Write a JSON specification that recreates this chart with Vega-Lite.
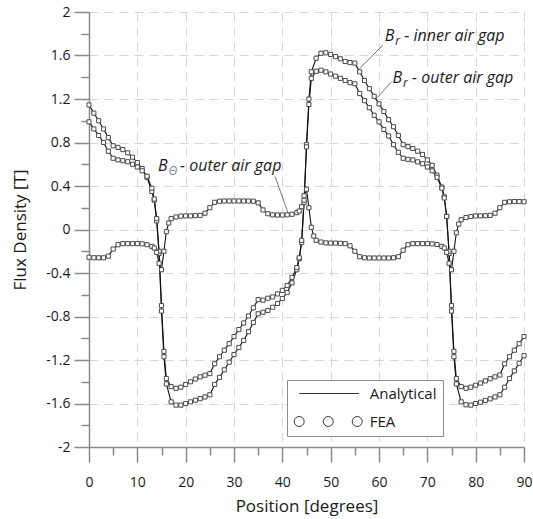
{
  "$schema": "https://vega.github.io/schema/vega-lite/v6.json",
  "width": 435,
  "height": 435,
  "autosize": {"type": "none"},
  "padding": {"left": 89, "top": 12, "right": 9, "bottom": 72},
  "background": "white",
  "config": {"view": {"stroke": null}, "font": "Open Sans"},
  "datasets": {
    "curves": [
      {"series":"inner","pos":0,"flux":1.145},{"series":"inner","pos":1,"flux":1.07},{"series":"inner","pos":2,"flux":1.0},{"series":"inner","pos":3,"flux":0.925},{"series":"inner","pos":4,"flux":0.845},{"series":"inner","pos":5,"flux":0.77},{"series":"inner","pos":6,"flux":0.755},{"series":"inner","pos":7,"flux":0.735},{"series":"inner","pos":8,"flux":0.705},{"series":"inner","pos":9,"flux":0.665},{"series":"inner","pos":10,"flux":0.615},{"series":"inner","pos":11,"flux":0.56},{"series":"inner","pos":12,"flux":0.48},{"series":"inner","pos":13,"flux":0.35},{"series":"inner","pos":13.5,"flux":0.27},{"series":"inner","pos":14,"flux":0.08},{"series":"inner","pos":14.5,"flux":-0.22},{"series":"inner","pos":15,"flux":-0.75},{"series":"inner","pos":15.5,"flux":-1.17},{"series":"inner","pos":16,"flux":-1.42},{"series":"inner","pos":17,"flux":-1.585},{"series":"inner","pos":18,"flux":-1.615},{"series":"inner","pos":19,"flux":-1.615},{"series":"inner","pos":20,"flux":-1.6},{"series":"inner","pos":21,"flux":-1.585},{"series":"inner","pos":22,"flux":-1.57},{"series":"inner","pos":23,"flux":-1.555},{"series":"inner","pos":24,"flux":-1.54},{"series":"inner","pos":25,"flux":-1.52},{"series":"inner","pos":26,"flux":-1.425},{"series":"inner","pos":27,"flux":-1.36},{"series":"inner","pos":28,"flux":-1.29},{"series":"inner","pos":29,"flux":-1.22},{"series":"inner","pos":30,"flux":-1.15},{"series":"inner","pos":31,"flux":-1.085},{"series":"inner","pos":32,"flux":-1.02},{"series":"inner","pos":33,"flux":-0.94},{"series":"inner","pos":34,"flux":-0.855},{"series":"inner","pos":35,"flux":-0.775},{"series":"inner","pos":36,"flux":-0.76},{"series":"inner","pos":37,"flux":-0.745},{"series":"inner","pos":38,"flux":-0.715},{"series":"inner","pos":39,"flux":-0.68},{"series":"inner","pos":40,"flux":-0.635},{"series":"inner","pos":41,"flux":-0.58},{"series":"inner","pos":42,"flux":-0.49},{"series":"inner","pos":43,"flux":-0.37},{"series":"inner","pos":43.5,"flux":-0.27},{"series":"inner","pos":44,"flux":-0.12},{"series":"inner","pos":44.5,"flux":0.25},{"series":"inner","pos":45,"flux":0.78},{"series":"inner","pos":45.5,"flux":1.2},{"series":"inner","pos":46,"flux":1.45},{"series":"inner","pos":47,"flux":1.575},{"series":"inner","pos":48,"flux":1.62},{"series":"inner","pos":49,"flux":1.625},{"series":"inner","pos":50,"flux":1.61},{"series":"inner","pos":51,"flux":1.59},{"series":"inner","pos":52,"flux":1.57},{"series":"inner","pos":53,"flux":1.545},{"series":"inner","pos":54,"flux":1.535},{"series":"inner","pos":55,"flux":1.53},{"series":"inner","pos":56,"flux":1.45},{"series":"inner","pos":57,"flux":1.37},{"series":"inner","pos":58,"flux":1.295},{"series":"inner","pos":59,"flux":1.225},{"series":"inner","pos":60,"flux":1.155},{"series":"inner","pos":61,"flux":1.085},{"series":"inner","pos":62,"flux":1.01},{"series":"inner","pos":63,"flux":0.945},{"series":"inner","pos":64,"flux":0.865},{"series":"inner","pos":65,"flux":0.78},{"series":"inner","pos":66,"flux":0.762},{"series":"inner","pos":67,"flux":0.745},{"series":"inner","pos":68,"flux":0.72},{"series":"inner","pos":69,"flux":0.69},{"series":"inner","pos":70,"flux":0.64},{"series":"inner","pos":71,"flux":0.59},{"series":"inner","pos":72,"flux":0.5},{"series":"inner","pos":73,"flux":0.39},{"series":"inner","pos":73.5,"flux":0.3},{"series":"inner","pos":74,"flux":0.12},{"series":"inner","pos":74.5,"flux":-0.22},{"series":"inner","pos":75,"flux":-0.75},{"series":"inner","pos":75.5,"flux":-1.17},{"series":"inner","pos":76,"flux":-1.42},{"series":"inner","pos":77,"flux":-1.585},{"series":"inner","pos":78,"flux":-1.612},{"series":"inner","pos":79,"flux":-1.615},{"series":"inner","pos":80,"flux":-1.6},{"series":"inner","pos":81,"flux":-1.588},{"series":"inner","pos":82,"flux":-1.572},{"series":"inner","pos":83,"flux":-1.557},{"series":"inner","pos":84,"flux":-1.54},{"series":"inner","pos":85,"flux":-1.52},{"series":"inner","pos":86,"flux":-1.45},{"series":"inner","pos":87,"flux":-1.37},{"series":"inner","pos":88,"flux":-1.3},{"series":"inner","pos":89,"flux":-1.23},{"series":"inner","pos":90,"flux":-1.16},
      {"series":"outer","pos":0,"flux":0.99},{"series":"outer","pos":1,"flux":0.925},{"series":"outer","pos":2,"flux":0.865},{"series":"outer","pos":3,"flux":0.8},{"series":"outer","pos":4,"flux":0.72},{"series":"outer","pos":5,"flux":0.655},{"series":"outer","pos":6,"flux":0.64},{"series":"outer","pos":7,"flux":0.633},{"series":"outer","pos":8,"flux":0.623},{"series":"outer","pos":9,"flux":0.6},{"series":"outer","pos":10,"flux":0.575},{"series":"outer","pos":11,"flux":0.54},{"series":"outer","pos":12,"flux":0.49},{"series":"outer","pos":13,"flux":0.38},{"series":"outer","pos":13.5,"flux":0.28},{"series":"outer","pos":14,"flux":0.1},{"series":"outer","pos":14.5,"flux":-0.2},{"series":"outer","pos":15,"flux":-0.7},{"series":"outer","pos":15.5,"flux":-1.12},{"series":"outer","pos":16,"flux":-1.37},{"series":"outer","pos":17,"flux":-1.445},{"series":"outer","pos":18,"flux":-1.46},{"series":"outer","pos":19,"flux":-1.45},{"series":"outer","pos":20,"flux":-1.425},{"series":"outer","pos":21,"flux":-1.4},{"series":"outer","pos":22,"flux":-1.375},{"series":"outer","pos":23,"flux":-1.355},{"series":"outer","pos":24,"flux":-1.34},{"series":"outer","pos":25,"flux":-1.325},{"series":"outer","pos":26,"flux":-1.235},{"series":"outer","pos":27,"flux":-1.17},{"series":"outer","pos":28,"flux":-1.11},{"series":"outer","pos":29,"flux":-1.05},{"series":"outer","pos":30,"flux":-0.985},{"series":"outer","pos":31,"flux":-0.92},{"series":"outer","pos":32,"flux":-0.86},{"series":"outer","pos":33,"flux":-0.795},{"series":"outer","pos":34,"flux":-0.72},{"series":"outer","pos":35,"flux":-0.645},{"series":"outer","pos":36,"flux":-0.65},{"series":"outer","pos":37,"flux":-0.632},{"series":"outer","pos":38,"flux":-0.62},{"series":"outer","pos":39,"flux":-0.592},{"series":"outer","pos":40,"flux":-0.56},{"series":"outer","pos":41,"flux":-0.515},{"series":"outer","pos":42,"flux":-0.44},{"series":"outer","pos":43,"flux":-0.35},{"series":"outer","pos":43.5,"flux":-0.26},{"series":"outer","pos":44,"flux":-0.1},{"series":"outer","pos":44.5,"flux":0.27},{"series":"outer","pos":45,"flux":0.76},{"series":"outer","pos":45.5,"flux":1.15},{"series":"outer","pos":46,"flux":1.39},{"series":"outer","pos":47,"flux":1.455},{"series":"outer","pos":48,"flux":1.465},{"series":"outer","pos":49,"flux":1.45},{"series":"outer","pos":50,"flux":1.43},{"series":"outer","pos":51,"flux":1.41},{"series":"outer","pos":52,"flux":1.39},{"series":"outer","pos":53,"flux":1.37},{"series":"outer","pos":54,"flux":1.35},{"series":"outer","pos":55,"flux":1.34},{"series":"outer","pos":56,"flux":1.25},{"series":"outer","pos":57,"flux":1.185},{"series":"outer","pos":58,"flux":1.12},{"series":"outer","pos":59,"flux":1.05},{"series":"outer","pos":60,"flux":0.99},{"series":"outer","pos":61,"flux":0.92},{"series":"outer","pos":62,"flux":0.86},{"series":"outer","pos":63,"flux":0.78},{"series":"outer","pos":64,"flux":0.71},{"series":"outer","pos":65,"flux":0.655},{"series":"outer","pos":66,"flux":0.645},{"series":"outer","pos":67,"flux":0.64},{"series":"outer","pos":68,"flux":0.622},{"series":"outer","pos":69,"flux":0.605},{"series":"outer","pos":70,"flux":0.575},{"series":"outer","pos":71,"flux":0.54},{"series":"outer","pos":72,"flux":0.48},{"series":"outer","pos":73,"flux":0.38},{"series":"outer","pos":73.5,"flux":0.29},{"series":"outer","pos":74,"flux":0.12},{"series":"outer","pos":74.5,"flux":-0.2},{"series":"outer","pos":75,"flux":-0.7},{"series":"outer","pos":75.5,"flux":-1.12},{"series":"outer","pos":76,"flux":-1.37},{"series":"outer","pos":77,"flux":-1.445},{"series":"outer","pos":78,"flux":-1.46},{"series":"outer","pos":79,"flux":-1.45},{"series":"outer","pos":80,"flux":-1.432},{"series":"outer","pos":81,"flux":-1.412},{"series":"outer","pos":82,"flux":-1.392},{"series":"outer","pos":83,"flux":-1.372},{"series":"outer","pos":84,"flux":-1.355},{"series":"outer","pos":85,"flux":-1.338},{"series":"outer","pos":86,"flux":-1.235},{"series":"outer","pos":87,"flux":-1.17},{"series":"outer","pos":88,"flux":-1.11},{"series":"outer","pos":89,"flux":-1.05},{"series":"outer","pos":90,"flux":-0.985},
      {"series":"theta","pos":0,"flux":-0.255},{"series":"theta","pos":1,"flux":-0.26},{"series":"theta","pos":2,"flux":-0.26},{"series":"theta","pos":3,"flux":-0.26},{"series":"theta","pos":4,"flux":-0.245},{"series":"theta","pos":5,"flux":-0.18},{"series":"theta","pos":6,"flux":-0.14},{"series":"theta","pos":7,"flux":-0.13},{"series":"theta","pos":8,"flux":-0.13},{"series":"theta","pos":9,"flux":-0.13},{"series":"theta","pos":10,"flux":-0.13},{"series":"theta","pos":11,"flux":-0.132},{"series":"theta","pos":12,"flux":-0.14},{"series":"theta","pos":13,"flux":-0.155},{"series":"theta","pos":13.5,"flux":-0.17},{"series":"theta","pos":14,"flux":-0.21},{"series":"theta","pos":14.5,"flux":-0.31},{"series":"theta","pos":15,"flux":-0.37},{"series":"theta","pos":15.5,"flux":-0.2},{"series":"theta","pos":16,"flux":-0.02},{"series":"theta","pos":16.5,"flux":0.06},{"series":"theta","pos":17,"flux":0.1},{"series":"theta","pos":18,"flux":0.115},{"series":"theta","pos":19,"flux":0.123},{"series":"theta","pos":20,"flux":0.125},{"series":"theta","pos":21,"flux":0.125},{"series":"theta","pos":22,"flux":0.127},{"series":"theta","pos":23,"flux":0.13},{"series":"theta","pos":24,"flux":0.15},{"series":"theta","pos":25,"flux":0.2},{"series":"theta","pos":26,"flux":0.25},{"series":"theta","pos":27,"flux":0.26},{"series":"theta","pos":28,"flux":0.262},{"series":"theta","pos":29,"flux":0.262},{"series":"theta","pos":30,"flux":0.262},{"series":"theta","pos":31,"flux":0.262},{"series":"theta","pos":32,"flux":0.262},{"series":"theta","pos":33,"flux":0.262},{"series":"theta","pos":34,"flux":0.26},{"series":"theta","pos":35,"flux":0.245},{"series":"theta","pos":36,"flux":0.18},{"series":"theta","pos":37,"flux":0.145},{"series":"theta","pos":38,"flux":0.135},{"series":"theta","pos":39,"flux":0.133},{"series":"theta","pos":40,"flux":0.133},{"series":"theta","pos":41,"flux":0.135},{"series":"theta","pos":42,"flux":0.14},{"series":"theta","pos":43,"flux":0.155},{"series":"theta","pos":43.5,"flux":0.17},{"series":"theta","pos":44,"flux":0.21},{"series":"theta","pos":44.5,"flux":0.31},{"series":"theta","pos":45,"flux":0.37},{"series":"theta","pos":45.5,"flux":0.2},{"series":"theta","pos":46,"flux":0.02},{"series":"theta","pos":46.5,"flux":-0.06},{"series":"theta","pos":47,"flux":-0.1},{"series":"theta","pos":48,"flux":-0.115},{"series":"theta","pos":49,"flux":-0.123},{"series":"theta","pos":50,"flux":-0.125},{"series":"theta","pos":51,"flux":-0.125},{"series":"theta","pos":52,"flux":-0.127},{"series":"theta","pos":53,"flux":-0.13},{"series":"theta","pos":54,"flux":-0.15},{"series":"theta","pos":55,"flux":-0.2},{"series":"theta","pos":56,"flux":-0.25},{"series":"theta","pos":57,"flux":-0.26},{"series":"theta","pos":58,"flux":-0.262},{"series":"theta","pos":59,"flux":-0.262},{"series":"theta","pos":60,"flux":-0.262},{"series":"theta","pos":61,"flux":-0.262},{"series":"theta","pos":62,"flux":-0.262},{"series":"theta","pos":63,"flux":-0.26},{"series":"theta","pos":64,"flux":-0.25},{"series":"theta","pos":65,"flux":-0.19},{"series":"theta","pos":66,"flux":-0.14},{"series":"theta","pos":67,"flux":-0.13},{"series":"theta","pos":68,"flux":-0.13},{"series":"theta","pos":69,"flux":-0.13},{"series":"theta","pos":70,"flux":-0.13},{"series":"theta","pos":71,"flux":-0.132},{"series":"theta","pos":72,"flux":-0.138},{"series":"theta","pos":73,"flux":-0.155},{"series":"theta","pos":73.5,"flux":-0.17},{"series":"theta","pos":74,"flux":-0.21},{"series":"theta","pos":74.5,"flux":-0.31},{"series":"theta","pos":75,"flux":-0.37},{"series":"theta","pos":75.5,"flux":-0.2},{"series":"theta","pos":76,"flux":-0.03},{"series":"theta","pos":76.5,"flux":0.05},{"series":"theta","pos":77,"flux":0.09},{"series":"theta","pos":78,"flux":0.11},{"series":"theta","pos":79,"flux":0.12},{"series":"theta","pos":80,"flux":0.125},{"series":"theta","pos":81,"flux":0.125},{"series":"theta","pos":82,"flux":0.127},{"series":"theta","pos":83,"flux":0.13},{"series":"theta","pos":84,"flux":0.15},{"series":"theta","pos":85,"flux":0.2},{"series":"theta","pos":86,"flux":0.25},{"series":"theta","pos":87,"flux":0.255},{"series":"theta","pos":88,"flux":0.257},{"series":"theta","pos":89,"flux":0.257},{"series":"theta","pos":90,"flux":0.255}
    ],
    "notes": [
      {"pos": 61.2, "flux": 1.73, "sub": "r", "rest": "- inner air gap"},
      {"pos": 62.8, "flux": 1.35, "sub": "r", "rest": "- outer air gap"},
      {"pos": 14.3, "flux": 0.54, "sub": "Θ", "rest": "- outer air gap"}
    ],
    "leaders": [
      {"pos": 60.8, "flux": 1.696, "pos2": 56.05, "flux2": 1.482},
      {"pos": 62.6, "flux": 1.359, "pos2": 59.2, "flux2": 1.19},
      {"pos": 38.5, "flux": 0.486, "pos2": 41.2, "flux2": 0.151}
    ]
  },
  "encoding": {
    "x": {
      "field": "pos", "type": "quantitative",
      "scale": {"domain": [0, 90], "nice": false, "zero": false},
      "axis": {
        "values": [0,5,10,15,20,25,30,35,40,45,50,55,60,65,70,75,80,85,90],
        "title": "Position [degrees]",
        "labelExpr": "datum.value % 10 == 0 ? toString(datum.value) : ''",
        "tickSize": {"condition": {"test": "datum.value % 10 == 0", "value": 15}, "value": 8},
        "grid": true,
        "gridOpacity": {"condition": {"test": "datum.value % 10 == 0", "value": 1}, "value": 0},
        "gridColor": "#d6d6d6", "gridDash": [9, 6], "gridWidth": 1,
        "domainColor": "#8a8a8a", "domainWidth": 1.5,
        "tickColor": "#8a8a8a", "tickWidth": 1.5,
        "labelFont": "Open Sans", "labelFontSize": 14, "labelColor": "#1a1a1a",
        "labelPadding": 13, "labelFlush": false, "labelOverlap": false,
        "titleFont": "Open Sans", "titleFontSize": 17, "titleFontWeight": "normal", "titleColor": "#1a1a1a",
        "titleY": 64, "titleBaseline": "alphabetic"
      }
    },
    "y": {
      "field": "flux", "type": "quantitative",
      "scale": {"domain": [-2, 2], "nice": false, "zero": false},
      "axis": {
        "values": [-2,-1.8,-1.6,-1.4,-1.2,-1,-0.8,-0.6,-0.4,-0.2,0,0.2,0.4,0.6,0.8,1,1.2,1.4,1.6,1.8,2],
        "title": "Flux Density [T]",
        "labelExpr": "abs(round(datum.value*5)) % 2 == 0 ? toString(datum.value) : ''",
        "tickSize": {"condition": {"test": "abs(round(datum.value*5)) % 2 == 0", "value": 15}, "value": 8},
        "grid": true,
        "gridOpacity": {"condition": {"test": "abs(round(datum.value*5)) % 2 == 0", "value": 1}, "value": 0},
        "gridColor": "#d6d6d6", "gridDash": [9, 6], "gridWidth": 1,
        "domainColor": "#8a8a8a", "domainWidth": 1.5,
        "tickColor": "#8a8a8a", "tickWidth": 1.5,
        "labelFont": "Open Sans", "labelFontSize": 14, "labelColor": "#1a1a1a",
        "labelPadding": 4, "labelFlush": false, "labelOverlap": false,
        "titleFont": "Open Sans", "titleFontSize": 17, "titleFontWeight": "normal", "titleColor": "#1a1a1a",
        "titleX": -60
      }
    }
  },
  "layer": [
    {
      "data": {"name": "curves"},
      "mark": {"type": "line", "strokeWidth": 1.1, "color": "#111111"},
      "encoding": {
        "detail": {"field": "series"}
      }
    },
    {
      "data": {"name": "curves"},
      "mark": {"type": "point", "shape": "square", "size": 17, "filled": false, "fill": "white", "stroke": "#4a4a4a", "strokeWidth": 1, "opacity": 1}
    },
    {
      "data": {"name": "notes"},
      "mark": {"type": "point", "filled": false, "color": "#333333", "opacity": 0},
      "encoding": {
        "shape": {
          "datum": "FEA",
          "scale": {"domain": ["Analytical", "FEA"], "range": ["M-0.22,0L9.78,0", "M-1.05,0a0.83,0.83 0 1,0 1.66,0a0.83,0.83 0 1,0 -1.66,0M3.79,0a0.83,0.83 0 1,0 1.66,0a0.83,0.83 0 1,0 -1.66,0M8.62,0a0.83,0.83 0 1,0 1.66,0a0.83,0.83 0 1,0 -1.66,0"]},
          "legend": {
            "title": null,
            "orient": "none", "legendX": 198, "legendY": 368,
            "strokeColor": "#8c8c8c", "fillColor": "white", "padding": 6,
            "symbolSize": 144, "symbolStrokeWidth": 1, "symbolOpacity": 1,
            "symbolStrokeColor": "#333333", "symbolFillColor": "transparent",
            "labelFont": "Open Sans", "labelFontSize": 15, "labelColor": "#1a1a1a",
            "labelOffset": 61.7, "rowPadding": 12
          }
        }
      }
    },
    {
      "data": {"name": "leaders"},
      "mark": {"type": "rule", "color": "#555555", "strokeWidth": 0.8},
      "encoding": {
        "x2": {"field": "pos2"},
        "y2": {"field": "flux2"}
      }
    },
    {
      "data": {"name": "notes"},
      "mark": {"type": "text", "text": "B", "align": "left", "baseline": "alphabetic", "font": "Open Sans", "fontStyle": "italic", "fontSize": 16, "color": "#1a1a1a"}
    },
    {
      "data": {"name": "notes"},
      "mark": {"type": "text", "align": "left", "baseline": "alphabetic", "font": "Open Sans", "fontStyle": "italic", "fontSize": 12, "dx": 10.5, "dy": 4},
      "encoding": {
        "text": {"field": "sub"},
        "color": {"condition": {"test": "datum.sub === 'Θ'", "value": "#6f86a6"}, "value": "#1a1a1a"}
      }
    },
    {
      "data": {"name": "notes"},
      "transform": [{"filter": "datum.sub === 'r'"}],
      "mark": {"type": "text", "align": "left", "baseline": "alphabetic", "font": "Open Sans", "fontStyle": "italic", "fontSize": 16, "dx": 19.5, "color": "#1a1a1a"},
      "encoding": {"text": {"field": "rest"}}
    },
    {
      "data": {"name": "notes"},
      "transform": [{"filter": "datum.sub !== 'r'"}],
      "mark": {"type": "text", "align": "left", "baseline": "alphabetic", "font": "Open Sans", "fontStyle": "italic", "fontSize": 16, "dx": 22, "color": "#1a1a1a"},
      "encoding": {"text": {"field": "rest"}}
    }
  ]
}
